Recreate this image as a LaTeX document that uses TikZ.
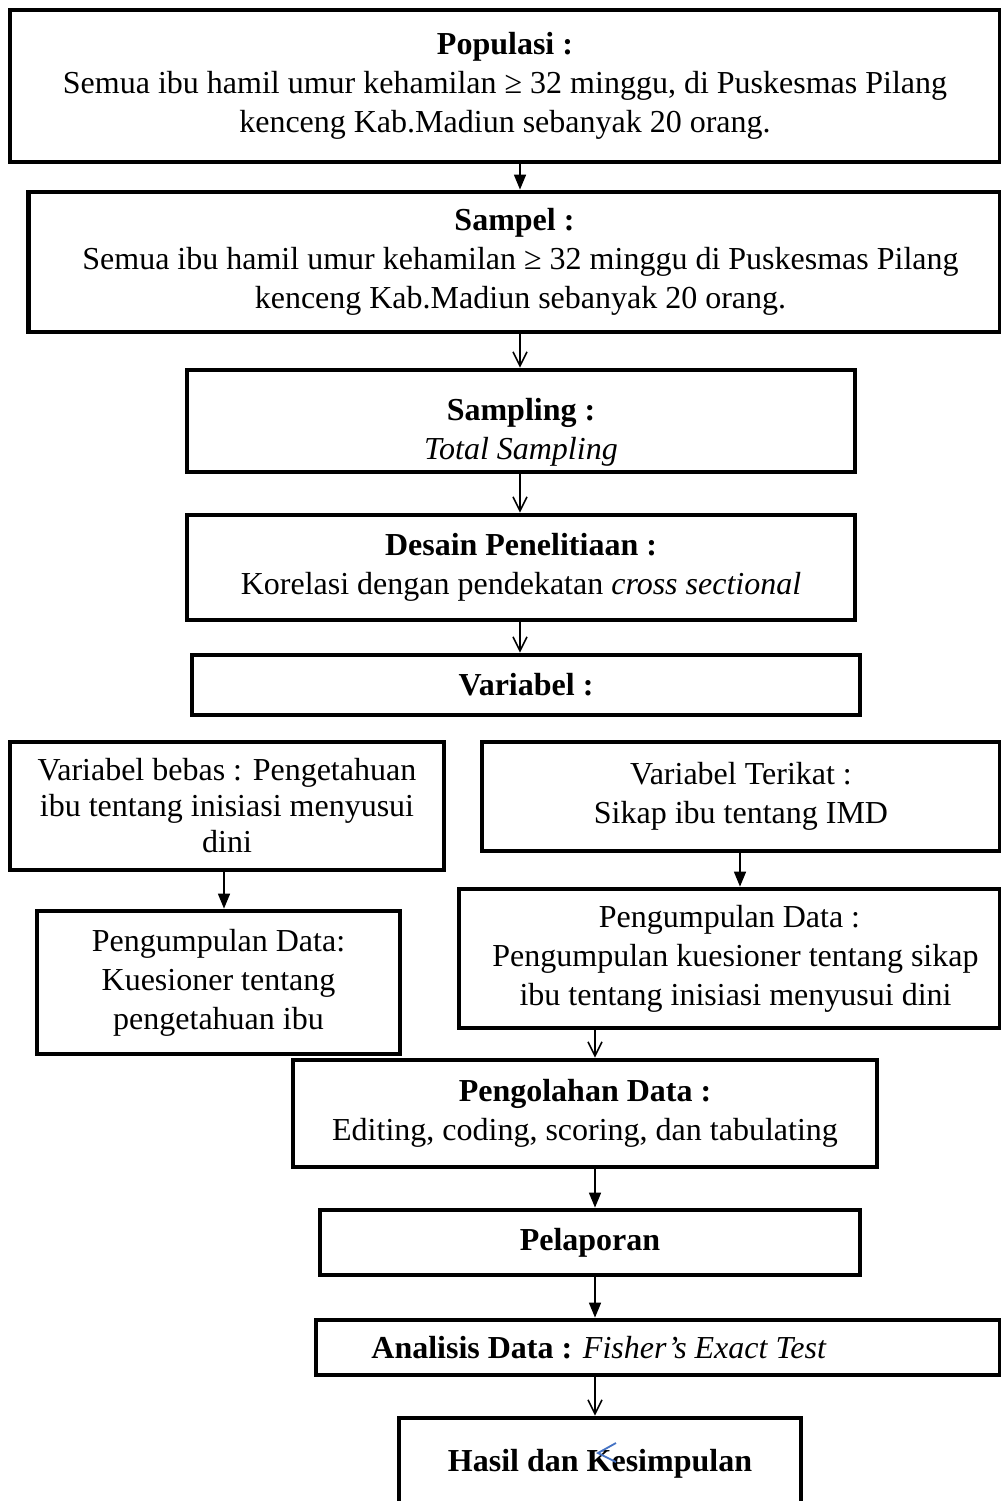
\documentclass[tikz,border=0pt]{standalone}
\usepackage{fontspec}
\setmainfont{Liberation Serif}
\usetikzlibrary{arrows.meta}
\newcommand\myfs{\fontsize{16}{19.5}\selectfont}
\newcommand\myfsb{\fontsize{16}{18}\selectfont}
\begin{document}
\begin{tikzpicture}[x=0.5pt,y=-0.5pt,
  box/.style={draw, line width=2.4pt, inner sep=0pt, align=center, font=\myfs},
  fa/.style={-{Triangle[length=7.5pt,width=6pt]}, line width=0.8pt},
  oa/.style={-{Straight Barb[length=7pt,width=7pt]}, line width=0.8pt}]
\clip (0,0) rectangle (1001,1501);
\fill[white] (0,0) rectangle (1001,1501);

\node[box, minimum width=495pt, minimum height=76pt] (pop) at (505,86)
  {\textbf{Populasi :}\\Semua ibu hamil umur kehamilan ≥ 32 minggu, di Puskesmas Pilang\\kenceng Kab.Madiun sebanyak 20 orang.};
\node[box, minimum width=486pt, minimum height=70pt] (sam) at (514.5,262)
  {\textbf{Sampel :}\\\hspace*{6pt}Semua ibu hamil umur kehamilan ≥ 32 minggu di Puskesmas Pilang\\\hspace*{6pt}kenceng Kab.Madiun sebanyak 20 orang.};
\node[box, minimum width=334pt, minimum height=51pt] (smp) at (521,421)
  {\rule{0pt}{22pt}\textbf{Sampling :}\\\textit{Total Sampling}};
\node[box, minimum width=334pt, minimum height=52.5pt] (des) at (521,567.5)
  {\textbf{Desain Penelitiaan :}\\Korelasi dengan pendekatan \textit{cross sectional}};
\node[box, minimum width=334pt, minimum height=30pt] (var) at (526,685)
  {\textbf{Variabel :}};
\node[box, font=\myfsb, minimum width=217pt, minimum height=64pt] (beb) at (227,806)
  {Variabel bebas : Pengetahuan\\ibu tentang inisiasi menyusui\\dini};
\node[box, minimum width=259pt, minimum height=54.5pt] (ter) at (741,796.5)
  {Variabel Terikat :\\Sikap ibu tentang IMD};
\node[box, minimum width=181.5pt, minimum height=71.5pt] (pgl) at (218.5,982.5)
  {Pengumpulan Data:\\Kuesioner tentang\\pengetahuan ibu};
\node[box, minimum width=270.5pt, minimum height=69.5pt] (pgr) at (729.5,958.5)
  {Pengumpulan Data :\\\hspace*{6pt}Pengumpulan kuesioner tentang sikap\\\hspace*{6pt}ibu tentang inisiasi menyusui dini};
\node[box, minimum width=292pt, minimum height=53.5pt] (olah) at (585,1113.5)
  {\textbf{Pengolahan Data :}\\Editing, coding, scoring, dan tabulating};
\node[box, minimum width=270pt, minimum height=32.5pt] (lap) at (590,1242.5)
  {\textbf{Pelaporan}};
\node[box, minimum width=342pt, minimum height=27.5pt] (ana) at (658,1347.5)
  {\textbf{Analisis Data :} \textit{Fisher’s Exact Test}\hspace*{59pt}};
\node[box, minimum width=201pt, minimum height=46pt] (has) at (600,1464)
  {\textbf{Hasil dan Kesimpulan}};

\coordinate (xa) at (520,0);
\coordinate (xl) at (224,0);
\coordinate (xr) at (740,0);
\coordinate (xb) at (595,0);

\draw[fa] (pop.south -| xa) -- (sam.north -| xa);
\draw[oa] (sam.south -| xa) -- (smp.north -| xa);
\draw[oa] (smp.south -| xa) -- (des.north -| xa);
\draw[oa] (des.south -| xa) -- (var.north -| xa);
\draw[fa] (beb.south -| xl) -- (pgl.north -| xl);
\draw[fa] (ter.south -| xr) -- (pgr.north -| xr);
\draw[oa] (pgr.south -| xb) -- (olah.north -| xb);
\draw[fa] (olah.south -| xb) -- (lap.north -| xb);
\draw[fa] (lap.south -| xb) -- (ana.north -| xb);
\draw[oa] (ana.south -| xb) -- (has.north -| xb);

\coordinate (ch1) at (616,1443);
\coordinate (ch2) at (598,1453);
\coordinate (ch3) at (616,1462);
\draw[color={rgb,255:red,68;green,114;blue,196}, line width=0.9pt] (ch1) -- (ch2) -- (ch3);
\end{tikzpicture}
\end{document}
